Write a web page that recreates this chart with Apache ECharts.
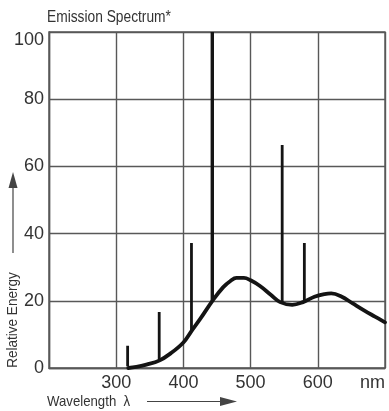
<!DOCTYPE html>
<html>
<head>
<meta charset="utf-8">
<script src="https://cdn.jsdelivr.net/npm/echarts@6/dist/echarts.min.js"></script>
<style>
  html, body { margin: 0; padding: 0; background: #fff; }
  #chart { width: 389px; height: 411px; }
</style>
</head>
<body>
<div id="chart"></div>
<script>
// Continuous background emission (wavelength in nm, relative energy in %)
const curveNm     = [318, 330, 345, 364, 380, 400, 412, 425, 444, 459, 470, 479, 490, 500, 514, 530, 544, 562, 578, 595, 610, 620, 635, 652, 670, 685, 700];
const curveEnergy = [0,   0.3, 1.0, 2.2, 4.2, 7.6, 11.0, 14.6, 20.2, 24.0, 25.9, 26.8, 26.8, 26.1, 24.4, 21.8, 19.6, 18.8, 19.6, 21.2, 22.0, 22.2, 21.3, 19.2, 17.0, 15.3, 13.6];

// Mercury emission lines: position, foot (on the continuum) and peak
const lineNm   = [317, 364, 412, 443, 547, 580];
const lineBase = [0.5, 2.2, 11.0, 20.0, 19.5, 19.6];
const linePeak = [6.6, 16.7, 37.2, 100, 66.4, 37.2];

// Axis ticks
const xTicks = [200, 300, 400, 500, 600, 700];
const xTickLabels = ['', '300', '400', '500', '600', 'nm'];
const yTicks = [0, 20, 40, 60, 80, 100];

const FONT = '"Liberation Sans", Arial, sans-serif';
const INK = '#141414';
const GRID = '#585858';
const TEXT = '#333';

const chart = echarts.init(document.getElementById('chart'), null, { renderer: 'canvas' });

const series = [{
  type: 'line',
  data: curveNm.map((x, i) => [x, curveEnergy[i]]),
  smooth: 0.4,
  symbol: 'none',
  lineStyle: { color: INK, width: 3.8, cap: 'round' },
  z: 3
}];

lineNm.forEach((x, i) => {
  series.push({
    type: 'line',
    data: [[x, lineBase[i]], [x, linePeak[i]]],
    symbol: 'none',
    lineStyle: { color: INK, width: x === 443 ? 3.4 : 2.8 },
    z: 4
  });
});

chart.setOption({
  animation: false,
  backgroundColor: '#fff',
  grid: {
    left: 49, right: 4, top: 32, bottom: 43,
    show: true, borderColor: GRID, borderWidth: 1.4
  },
  xAxis: {
    type: 'value',
    min: xTicks[0],
    max: xTicks[xTicks.length - 1],
    interval: 100,
    axisLine: { show: true, lineStyle: { color: GRID, width: 1.4 } },
    axisTick: { show: false },
    splitLine: { show: true, lineStyle: { color: GRID, width: 1.4 } },
    axisLabel: {
      margin: 6,
      color: TEXT,
      fontFamily: FONT,
      fontSize: 18,
      showMinLabel: true,
      showMaxLabel: true,
      alignMaxLabel: 'right',
      formatter: v => xTickLabels[xTicks.indexOf(v)] || ''
    }
  },
  yAxis: {
    type: 'value',
    min: yTicks[0],
    max: yTicks[yTicks.length - 1],
    interval: 20,
    axisLine: { show: true, lineStyle: { color: GRID, width: 1.4 } },
    axisTick: { show: false },
    splitLine: { show: true, lineStyle: { color: GRID, width: 1.4 } },
    axisLabel: {
      margin: 5,
      color: TEXT,
      fontFamily: FONT,
      fontSize: 18,
      // the top label sits just under the frame
      formatter: v => v === 100 ? '{top|100}' : String(v),
      rich: { top: { fontFamily: FONT, fontSize: 18, color: TEXT, padding: [16, 0, 0, 0] } }
    }
  },
  graphic: [
    // heading, set in a condensed cut
    {
      type: 'text',
      x: 47, y: 18,
      scaleX: 0.86,
      style: {
        text: 'Emission Spectrum*',
        fill: TEXT,
        font: '16px ' + FONT,
        align: 'left',
        verticalAlign: 'middle'
      }
    },
    // vertical axis caption with upward arrow
    {
      type: 'text',
      x: 13, y: 320,
      rotation: Math.PI / 2,
      scaleX: 0.9,
      style: {
        text: 'Relative Energy',
        fill: TEXT,
        font: '15px ' + FONT,
        align: 'center',
        verticalAlign: 'middle'
      }
    },
    { type: 'line', shape: { x1: 13, y1: 253, x2: 13, y2: 184 }, style: { stroke: '#444', lineWidth: 1.2 } },
    { type: 'polygon', shape: { points: [[13, 172], [8.5, 188], [17.5, 188]] }, style: { fill: '#444' } },
    // horizontal axis caption with right arrow
    {
      type: 'text',
      x: 47, y: 402,
      scaleX: 0.88,
      style: {
        text: 'Wavelength  λ',
        fill: TEXT,
        font: '15px ' + FONT,
        align: 'left',
        verticalAlign: 'middle'
      }
    },
    { type: 'line', shape: { x1: 147, y1: 401.5, x2: 224, y2: 401.5 }, style: { stroke: '#444', lineWidth: 1.2 } },
    { type: 'polygon', shape: { points: [[237, 401.5], [220, 397], [220, 406]] }, style: { fill: '#444' } }
  ],
  series: series
});
</script>
</body>
</html>
